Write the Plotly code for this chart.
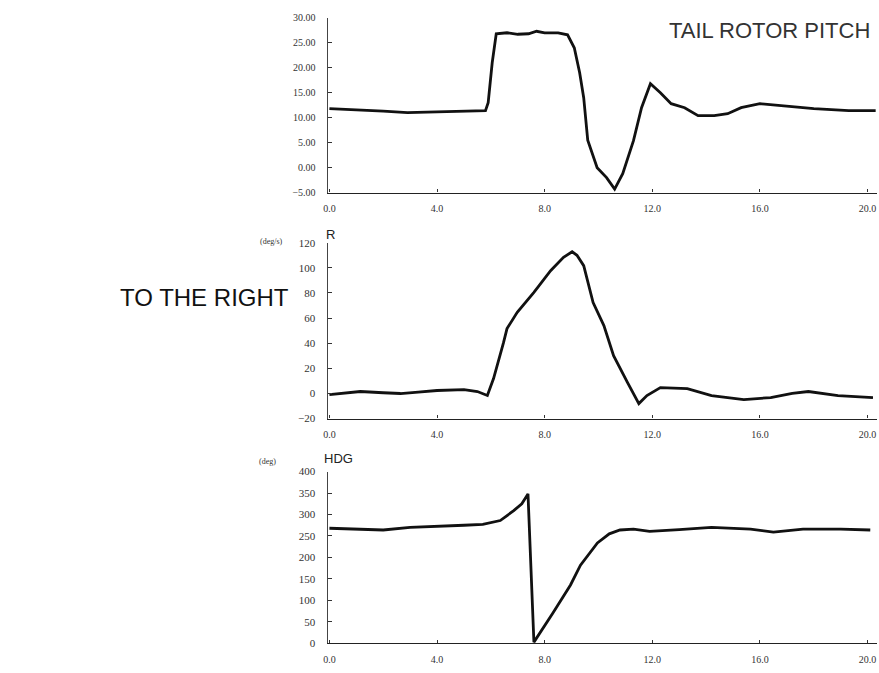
import plotly.graph_objects as go

# ---- data ----
t_pitch = [0.0, 1.0, 2.0, 2.9, 4.0, 5.0, 5.8, 5.9, 6.05, 6.2, 6.6, 7.0, 7.4, 7.7, 8.0,
           8.5, 8.85, 9.1, 9.3, 9.45, 9.6, 9.95, 10.3, 10.6, 10.9, 11.3, 11.6, 11.93,
           12.3, 12.7, 13.2, 13.7, 14.3, 14.8, 15.3, 16.0, 16.7, 17.4, 18.0, 19.3, 20.3]
pitch = [11.8, 11.6, 11.3, 11.0, 11.1, 11.3, 11.4, 13.0, 21.0, 26.8, 27.0, 26.7, 26.8,
         27.3, 27.0, 27.0, 26.6, 24.0, 19.0, 14.0, 5.5, 0.0, -2.0, -4.3, -1.2, 5.4,
         12.0, 16.8, 15.0, 12.8, 12.0, 10.4, 10.4, 10.8, 12.0, 12.8, 12.5, 12.2, 11.8,
         11.4, 11.4]

t_r = [0.0, 1.15, 2.0, 2.64, 3.3, 4.0, 5.0, 5.5, 5.87, 6.1, 6.47, 6.6, 6.98, 7.6, 8.22,
       8.7, 9.02, 9.2, 9.45, 9.8, 10.2, 10.56, 11.08, 11.5, 11.8, 12.3, 13.3, 14.2,
       15.4, 16.4, 17.2, 17.8, 18.9, 20.2]
r_rate = [-1.0, 1.5, 0.5, -0.1, 1.0, 2.3, 3.0, 1.5, -1.7, 11.8, 40.4, 51.6, 64.6, 80.5,
          97.7, 108.3, 112.8, 110.0, 101.7, 72.3, 54.0, 30.1, 8.6, -8.1, -1.7, 4.6, 3.8,
          -1.7, -4.9, -3.3, 0.0, 1.5, -1.7, -3.3]

t_hdg = [0.0, 1.0, 2.0, 3.0, 3.9, 5.0, 5.7, 6.35, 6.85, 7.15, 7.38, 7.6, 8.3, 8.96,
         9.33, 9.96, 10.4, 10.8, 11.3, 11.9, 13.0, 14.2, 15.65, 16.5, 17.6, 19.0, 20.1]
hdg = [268, 266, 264, 270, 273, 275, 277, 286, 309, 325, 348, 3, 70, 136, 182, 234,
       255, 264, 266, 261, 265, 270, 266, 259, 266, 266, 264]

x_ticks = [0, 4, 8, 12, 16, 20]
pitch_ticks = [-5, 0, 5, 10, 15, 20, 25, 30]
r_ticks = [-20, 0, 20, 40, 60, 80, 100, 120]
hdg_ticks = [0, 50, 100, 150, 200, 250, 300, 350, 400]

W, H = 879, 673


def px(x):
    return x / W


def py(y):
    return 1 - y / H


fig = go.Figure()
line = dict(color="#111111", width=2.8)
fig.add_trace(go.Scatter(x=t_pitch, y=pitch, mode="lines", line=line, xaxis="x", yaxis="y"))
fig.add_trace(go.Scatter(x=t_r, y=r_rate, mode="lines", line=line, xaxis="x2", yaxis="y2"))
fig.add_trace(go.Scatter(x=t_hdg, y=hdg, mode="lines", line=line, xaxis="x3", yaxis="y3"))

xfont = dict(family="Liberation Serif", size=10, color="#333333")
xdom = [px(325), px(877)]
xcommon = dict(domain=xdom, range=[-0.07, 20.35], tickvals=x_ticks, tickformat=".1f",
               showgrid=False, zeroline=False, showline=True, linecolor="#222222",
               linewidth=1.3, ticks="inside", ticklen=3, tickcolor="#333333",
               tickfont=xfont, ticklabelstandoff=6)
ycommon = dict(showgrid=False, zeroline=False, showline=True, linecolor="#444444",
               linewidth=1, ticks="inside", ticklen=4, tickcolor="#333333",
               ticklabelstandoff=9)

fig.update_layout(
    width=W, height=H, margin=dict(l=0, r=0, t=0, b=0),
    paper_bgcolor="white", plot_bgcolor="white", showlegend=False,
    xaxis=dict(anchor="y", **xcommon),
    xaxis2=dict(anchor="y2", **xcommon),
    xaxis3=dict(anchor="y3", **xcommon),
    yaxis=dict(anchor="x", domain=[py(190), py(12)], range=[-5, 30],
               tickvals=pitch_ticks, tickformat=".2f",
               tickfont=dict(family="Liberation Serif", size=10, color="#333333"),
               **ycommon),
    yaxis2=dict(anchor="x2", domain=[py(420), py(241)], range=[-20, 120],
                tickvals=r_ticks,
                tickfont=dict(family="Liberation Serif", size=11, color="#333333"),
                **ycommon),
    yaxis3=dict(anchor="x3", domain=[py(649), py(474)], range=[0, 400],
                tickvals=hdg_ticks,
                tickfont=dict(family="Liberation Serif", size=11, color="#333333"),
                **ycommon),
)

ann = [
    dict(text="TAIL ROTOR PITCH", x=px(872), y=py(25), xanchor="right", yanchor="middle",
         font=dict(family="Liberation Sans", size=22, color="#333333")),
    dict(text="TO THE RIGHT", x=px(115), y=py(297), xanchor="left", yanchor="middle",
         font=dict(family="Liberation Sans", size=24, color="#111111")),
    dict(text="R", x=px(321), y=py(233), xanchor="left", yanchor="middle",
         font=dict(family="Liberation Sans", size=13, color="#222222")),
    dict(text="HDG", x=px(319), y=py(461), xanchor="left", yanchor="middle",
         font=dict(family="Liberation Sans", size=13, color="#222222")),
    dict(text="(deg/s)", x=px(255), y=py(240), xanchor="left", yanchor="middle",
         font=dict(family="Liberation Serif", size=8, color="#333333")),
    dict(text="(deg)", x=px(254), y=py(464), xanchor="left", yanchor="middle",
         font=dict(family="Liberation Serif", size=8, color="#333333")),
]
for a in ann:
    fig.add_annotation(xref="paper", yref="paper", showarrow=False, **a)

fig.write_html(
    "out.html",
    config={"displayModeBar": False},
    post_script="document.body.style.margin='0px';document.body.style.overflow='hidden';",
)
